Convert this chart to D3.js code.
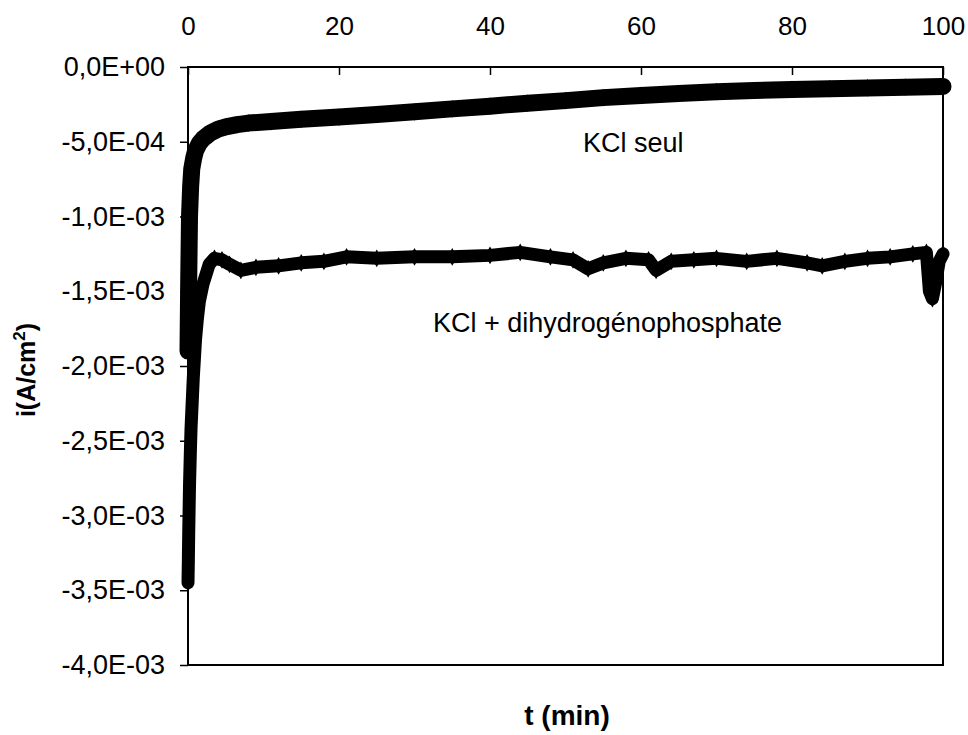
<!DOCTYPE html>
<html>
<head>
<meta charset="utf-8">
<script src="https://cdn.jsdelivr.net/npm/d3@7"></script>
<style>
  html, body { margin: 0; padding: 0; background: #fff; }
  svg { display: block; font-family: "Liberation Sans", Arial, sans-serif; }
</style>
</head>
<body>
<svg id="chart" width="968" height="735"></svg>
<script>
// values (t in min, i in A/cm2)
const xTicks = [0, 20, 40, 60, 80, 100];
const yTicks = [0, -0.5e-3, -1.0e-3, -1.5e-3, -2.0e-3, -2.5e-3, -3.0e-3, -3.5e-3, -4.0e-3];

const kclT = [0, 0.1, 0.2, 0.35, 0.5, 0.75, 1, 1.5, 2, 3, 4, 5, 6.5, 8, 11, 15, 20, 25, 30, 35, 40, 45, 50, 55, 60, 65, 70, 75, 80, 85, 90, 95, 100];
const kclI = [-1.9e-3, -1.4e-3, -1.0e-3, -8.0e-4, -6.8e-4, -6.1e-4, -5.6e-4, -5.1e-4, -4.8e-4, -4.4e-4, -4.15e-4, -4.0e-4, -3.85e-4, -3.75e-4, -3.65e-4, -3.5e-4, -3.35e-4, -3.18e-4, -3.0e-4, -2.8e-4, -2.62e-4, -2.42e-4, -2.25e-4, -2.05e-4, -1.9e-4, -1.77e-4, -1.65e-4, -1.57e-4, -1.5e-4, -1.45e-4, -1.4e-4, -1.35e-4, -1.3e-4];

const phosT = [0, 0.05, 0.1, 0.15, 0.2, 0.3, 0.4, 0.55, 0.7, 0.85, 1.0, 1.25, 1.5, 2.0, 2.5, 2.8, 3.5, 4.5, 5.5, 7, 9, 12, 15, 18, 21, 25, 30, 35, 40, 44, 48, 51, 53, 55, 58, 61, 62, 64, 67, 70, 74, 78, 82, 84, 87, 90, 93, 96, 97.8, 98.2, 98.6, 99.0, 99.5, 100];
const phosI = [-3.45e-3, -3.29e-3, -3.1e-3, -2.95e-3, -2.8e-3, -2.6e-3, -2.42e-3, -2.25e-3, -2.08e-3, -1.95e-3, -1.82e-3, -1.68e-3, -1.57e-3, -1.45e-3, -1.37e-3, -1.32e-3, -1.28e-3, -1.29e-3, -1.32e-3, -1.36e-3, -1.34e-3, -1.33e-3, -1.31e-3, -1.30e-3, -1.27e-3, -1.28e-3, -1.27e-3, -1.27e-3, -1.26e-3, -1.24e-3, -1.27e-3, -1.29e-3, -1.35e-3, -1.31e-3, -1.28e-3, -1.29e-3, -1.36e-3, -1.30e-3, -1.29e-3, -1.28e-3, -1.30e-3, -1.28e-3, -1.31e-3, -1.33e-3, -1.30e-3, -1.28e-3, -1.27e-3, -1.25e-3, -1.24e-3, -1.50e-3, -1.55e-3, -1.45e-3, -1.30e-3, -1.25e-3];

const kclData = kclT.map((t, k) => ({ t, i: kclI[k] }));
const phosData = phosT.map((t, k) => ({ t, i: phosI[k] }));

const svg = d3.select('#chart');
const x = d3.scaleLinear().domain([0, 100]).range([188, 943]);
const y = d3.scaleLinear().domain([-4e-3, 0]).range([665, 67]);

function sciFr(v) {
    if (Math.abs(v) < 1e-12) return '0,0E+00';
    const [m, e] = d3.format('.1e')(v).replace(/\u2212/g, '-').split('e');
    const ex = parseInt(e, 10);
    const sign = ex < 0 ? '-' : '+';
    return m.replace('.', ',') + 'E' + sign + String(Math.abs(ex)).padStart(2, '0');
}

// frame
svg.append('rect')
    .attr('x', x(0)).attr('y', y(0))
    .attr('width', x(100) - x(0)).attr('height', y(-4e-3) - y(0))
    .attr('fill', 'none').attr('stroke', '#000').attr('stroke-width', 2);

const xAxis = svg.append('g')
    .attr('transform', `translate(0,${y(0)})`)
    .call(d3.axisTop(x).tickValues(xTicks).tickSizeInner(-8).tickSizeOuter(0).tickPadding(32));
xAxis.select('.domain').remove();
xAxis.selectAll('line').attr('stroke-width', 1.5);
xAxis.selectAll('text').attr('font-size', 26).attr('font-family', '"Liberation Sans", Arial, sans-serif').attr('fill', '#000');

const yAxis = svg.append('g')
    .attr('transform', `translate(${x(0)},0)`)
    .call(d3.axisLeft(y).tickValues(yTicks).tickFormat(sciFr).tickSizeInner(8).tickSizeOuter(0).tickPadding(15));
yAxis.select('.domain').remove();
yAxis.selectAll('line').attr('stroke-width', 1.5);
yAxis.selectAll('text').attr('font-size', 27).attr('font-family', '"Liberation Sans", Arial, sans-serif').attr('fill', '#000');

// series: thick traces with diamond markers
const line = d3.line().x(d => x(d.t)).y(d => y(d.i));
const diamond = d3.symbol().type(d3.symbolDiamond).size(90);

function drawSeries(data, width) {
    svg.append('path')
        .datum(data)
        .attr('d', line)
        .attr('fill', 'none')
        .attr('stroke', '#000')
        .attr('stroke-width', width)
        .attr('stroke-linejoin', 'round')
        .attr('stroke-linecap', 'round');
    svg.append('g').selectAll('path')
        .data(data)
        .enter()
        .append('path')
        .attr('transform', d => `translate(${x(d.t)},${y(d.i)})`)
        .attr('d', diamond)
        .attr('fill', '#000');
}
drawSeries(kclData, 17);
drawSeries(phosData, 13);

// annotations
svg.append('text')
    .attr('x', 583).attr('y', 152)
    .attr('font-size', 27)
    .text('KCl seul');
svg.append('text')
    .attr('x', 433).attr('y', 332)
    .attr('font-size', 27)
    .text('KCl + dihydrogénophosphate');

// axis titles
svg.append('text')
    .attr('x', 567).attr('y', 725)
    .attr('text-anchor', 'middle')
    .attr('font-size', 28)
    .attr('font-weight', 'bold')
    .text('t (min)');

const yTitle = svg.append('text')
    .attr('transform', 'translate(35,370) rotate(-90)')
    .attr('text-anchor', 'middle')
    .attr('font-size', 25)
    .attr('font-weight', 'bold');
yTitle.append('tspan').text('i(A/cm');
yTitle.append('tspan').attr('font-size', 17).attr('dy', -10).text('2');
yTitle.append('tspan').attr('dy', 10).text(')');
</script>
</body>
</html>
